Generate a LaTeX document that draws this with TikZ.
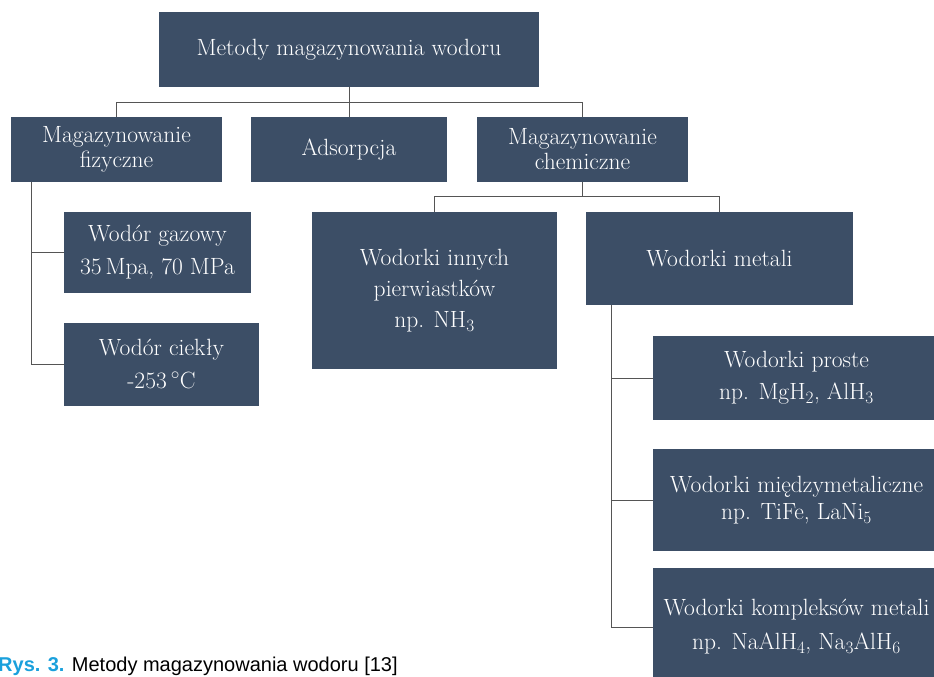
\documentclass[tikz,border=0pt]{standalone}
\usepackage{fontspec}
\newfontfamily\capfont{Liberation Sans}
\usetikzlibrary{positioning}

\definecolor{boxblue}{RGB}{60,78,102}
\definecolor{linegray}{RGB}{85,85,85}
\definecolor{rysblue}{RGB}{26,160,220}

\tikzset{
  blok/.style={rectangle, fill=boxblue, text=white, align=center, inner sep=0pt,
    font=\fontsize{23.5}{25}\selectfont},
  link/.style={draw=linegray, line width=0.9pt}
}

\begin{document}
\begin{tikzpicture}[x=1pt, y=-1pt]
\useasboundingbox (0,0) rectangle (934,677);

% poziom 1 i 2
\node[blok, minimum width=380, minimum height=75] (top) at (349,49.5) {Metody magazynowania wodoru};
\node[blok, minimum width=211, minimum height=65] (mf) at (116.5,149.5) {Magazynowanie\\fizyczne};
\node[blok, minimum width=196, minimum height=65] (ads) at (349,149.5) {Adsorpcja};
\node[blok, minimum width=211, minimum height=65] (mc) at (582.5,149.5) {Magazynowanie\\chemiczne};

% magazynowanie fizyczne
\node[blok, minimum width=187, minimum height=81, font=\fontsize{23.5}{33}\selectfont] (wg) at (157.5,252.5) {Wodór gazowy\\35\,Mpa, 70 MPa};
\node[blok, minimum width=195, minimum height=83, font=\fontsize{23.5}{33}\selectfont] (wc) at (161.5,364.5) {Wodór ciekły\\-253\,$^\circ$C};

% magazynowanie chemiczne
\node[blok, minimum width=245, minimum height=157, font=\fontsize{23.5}{31}\selectfont] (wip) at (434.5,290.5) {Wodorki innych\\pierwiastków\\np. NH$_3$};
\node[blok, minimum width=267, minimum height=93] (wm) at (719.5,258.5) {Wodorki metali};
\node[blok, minimum width=287, minimum height=84, font=\fontsize{23.5}{32}\selectfont] (wp) at (796.5,378) {Wodorki proste\\np. MgH$_2$, AlH$_3$};
\node[blok, minimum width=287, minimum height=102, font=\fontsize{23.5}{27}\selectfont] (wmm) at (796.5,500) {Wodorki międzymetaliczne\\np. TiFe, LaNi$_5$};
\node[blok, minimum width=287, minimum height=118, font=\fontsize{23.5}{34}\selectfont] (wkm) at (796.5,627) {Wodorki kompleksów metali\\np. NaAlH$_4$, Na$_3$AlH$_6$};

% polaczenia
\draw[link] (top.south) -- (ads.north);
\draw[link] (mf.north) -- ++(0,-14) -| (mc.north);
\draw[link] (mc.south) -- ++(0,15);
\draw[link] (wip.north) -- ++(0,-15) -| (wm.north);

\coordinate (lf) at ([xshift=21pt]mf.south west);
\draw[link] (lf) |- (wc.west);
\draw[link] (lf) |- (wg.west);

\coordinate (rt) at ([xshift=26pt]wm.south west);
\draw[link] (rt) |- (wkm.west);
\draw[link] (rt) |- (wp.west);
\draw[link] (rt) |- (wmm.west);

% podpis
\node[anchor=base west, inner sep=0pt, font=\capfont\fontsize{20}{24}\selectfont] (cap) at (-2,671)
  {\textcolor{rysblue}{\bfseries Rys. 3.} Metody magazynowania wodoru [13]};

\end{tikzpicture}
\end{document}
